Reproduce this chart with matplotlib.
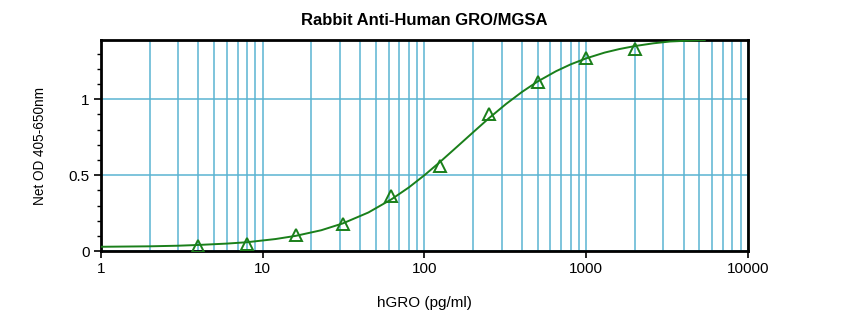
import matplotlib
matplotlib.use("Agg")
import matplotlib.pyplot as plt
from matplotlib.ticker import LogLocator, MultipleLocator, FixedLocator

# --- data ---
conc = [4, 8, 16, 31.25, 62.5, 125, 250, 500, 1000, 2000]
od = [0.035, 0.046, 0.103, 0.18, 0.36, 0.56, 0.906, 1.114, 1.27, 1.333]

curve_x = [1, 2, 3, 4, 6, 8, 12, 16, 23, 31.25, 45, 62.5, 80, 100, 125, 160,
           200, 250, 320, 400, 500, 650, 800, 1000, 1300, 1600, 2000, 2600,
           3300, 4200, 5400]
curve_y = [0.028, 0.031, 0.035, 0.040, 0.049, 0.058, 0.079, 0.100, 0.137,
           0.182, 0.254, 0.341, 0.419, 0.500, 0.588, 0.690, 0.783, 0.875,
           0.970, 1.048, 1.117, 1.185, 1.230, 1.270, 1.308, 1.331, 1.351,
           1.369, 1.381, 1.386, 1.39]

GRID = "#5ab4d2"
GREEN = "#1a7f1a"

plt.rcParams["font.family"] = ["Liberation Sans", "DejaVu Sans"]

fig = plt.figure(figsize=(8.5, 3.21), dpi=100)
ax = fig.add_axes([0.1188, 0.218, 0.7612, 0.657])

ax.set_xscale("log")
ax.set_xlim(1, 10000)
ax.set_ylim(0, 1.39)

ax.xaxis.set_major_locator(LogLocator(base=10, numticks=10))
ax.xaxis.set_minor_locator(LogLocator(base=10, subs=range(2, 10), numticks=10))
ax.yaxis.set_major_locator(FixedLocator([0, 0.5, 1]))
ax.yaxis.set_minor_locator(MultipleLocator(0.1))
ax.set_xticks([1, 10, 100, 1000, 10000], ["1", "10", "100", "1000", "10000"])
ax.set_yticks([0, 0.5, 1], ["0", "0.5", "1"])

ax.grid(True, which="both", axis="x", color=GRID, linewidth=1.1)
ax.grid(True, which="major", axis="y", color=GRID, linewidth=1.1)
ax.set_axisbelow(True)

ax.tick_params(axis="both", which="major", direction="out", length=5,
               width=1.2, labelsize=11, colors="black", pad=3)
ax.tick_params(axis="x", which="minor", length=0)
ax.tick_params(axis="y", which="minor", direction="out", length=3, width=1)

for sp in ax.spines.values():
    sp.set_color("black")
    sp.set_linewidth(2)

ax.plot(curve_x, curve_y, color=GREEN, linewidth=1.4, zorder=3)
ax.plot(conc, od, linestyle="none", marker="^", markersize=8,
        markerfacecolor="none", markeredgecolor=GREEN, markeredgewidth=1.4,
        zorder=4)

ax.set_title("Rabbit Anti-Human GRO/MGSA", fontsize=12, fontweight="bold",
             pad=11)
ax.set_xlabel("hGRO (pg/ml)", fontsize=11, labelpad=14)
ax.set_ylabel("Net OD 405-650nm", fontsize=9.8, labelpad=16)

fig.savefig("out.png", dpi=100)
